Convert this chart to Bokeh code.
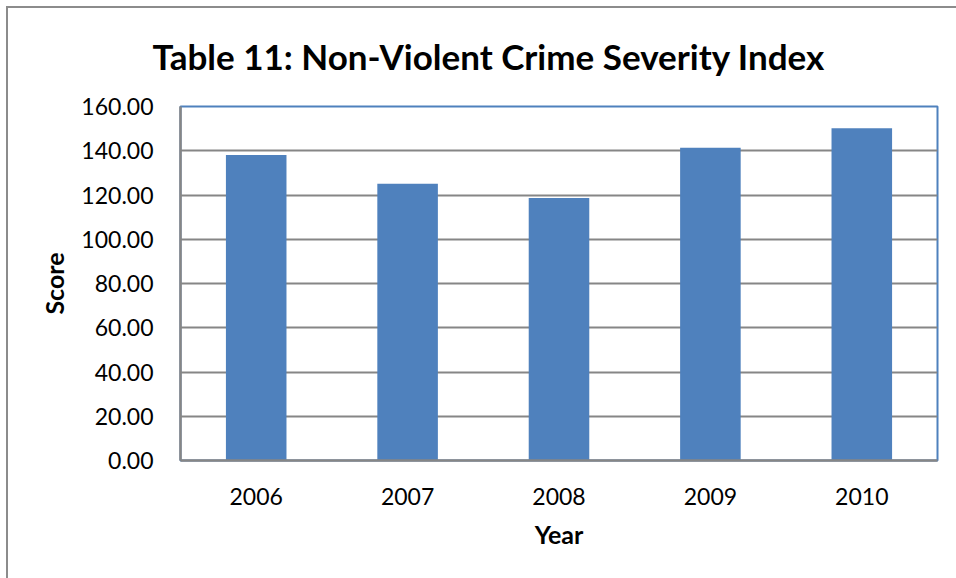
from bokeh.plotting import figure
from bokeh.models import FactorRange, Range1d, FixedTicker, NumeralTickFormatter, ColumnDataSource
from bokeh.embed import file_html
from bokeh.resources import INLINE

years = ["2006", "2007", "2008", "2009", "2010"]
scores = [138.1, 125.1, 118.6, 141.4, 150.2]
y_ticks = [0, 20, 40, 60, 80, 100, 120, 140, 160]

title_text = "Table 11:  Non-Violent Crime Severity Index"
x_title = "Year"
y_title = "Score"

FONT = "Lato"

src = ColumnDataSource(dict(year=years, score=scores))

p = figure(
    width=956, height=578,
    x_range=FactorRange(*years, range_padding=0),
    y_range=Range1d(0, 160),
    output_backend="svg", toolbar_location=None,
    min_border_left=180, min_border_right=19,
    min_border_top=106, min_border_bottom=118,
    title=title_text,
)
# outer chart border (left and top edges visible in the window)
p.styles = {"background": "linear-gradient(#8c8c8c,#8c8c8c) 6px 6px / 2px 100% no-repeat, "
                          "linear-gradient(#8c8c8c,#8c8c8c) 6px 6px / 100% 2px no-repeat, #ffffff"}
p.border_fill_color = None

p.vbar(x="year", top="score", width=0.4, source=src,
       fill_color="#4F81BD", line_color=None)

# title
p.title.text_font = FONT
p.title.text_font_style = "bold"
p.title.text_font_size = "35px"
p.title.text_color = "#000000"
p.title.align = "left"
p.title.offset = -28
p.title.standoff = 60

# frame
p.outline_line_color = "#4F81BD"
p.outline_line_width = 2
p.background_fill_color = "white"

# grid
p.xgrid.grid_line_color = None
p.ygrid.grid_line_color = "#868686"
p.ygrid.grid_line_width = 2
p.ygrid.ticker = FixedTicker(ticks=y_ticks)

# y axis
p.yaxis.ticker = FixedTicker(ticks=y_ticks)
p.yaxis.formatter = NumeralTickFormatter(format="0.00")
p.yaxis.axis_label = y_title
p.yaxis.axis_label_text_font = FONT
p.yaxis.axis_label_text_font_style = "bold"
p.yaxis.axis_label_text_font_size = "25px"
p.yaxis.axis_label_standoff = 9
p.yaxis.major_label_text_font = FONT
p.yaxis.major_label_text_font_size = "23px"
p.yaxis.major_label_standoff = 21
p.yaxis.major_tick_line_color = None
p.yaxis.minor_tick_line_color = None
p.yaxis.axis_line_color = "#868686"
p.yaxis.axis_line_width = 2.5

# x axis
p.xaxis.axis_label = x_title
p.xaxis.axis_label_text_font = FONT
p.xaxis.axis_label_text_font_style = "bold"
p.xaxis.axis_label_text_font_size = "25px"
p.xaxis.axis_label_standoff = 11
p.xaxis.major_label_text_font = FONT
p.xaxis.major_label_text_font_size = "23px"
p.xaxis.major_label_standoff = 21
p.xaxis.major_tick_line_color = None
p.xaxis.minor_tick_line_color = None
p.xaxis.axis_line_color = "#868686"
p.xaxis.axis_line_width = 2.5

for ax in (p.xaxis, p.yaxis):
    ax.major_label_text_color = "#000000"
    ax.axis_label_text_color = "#000000"

open("out.html", "w").write(file_html(p, INLINE))
